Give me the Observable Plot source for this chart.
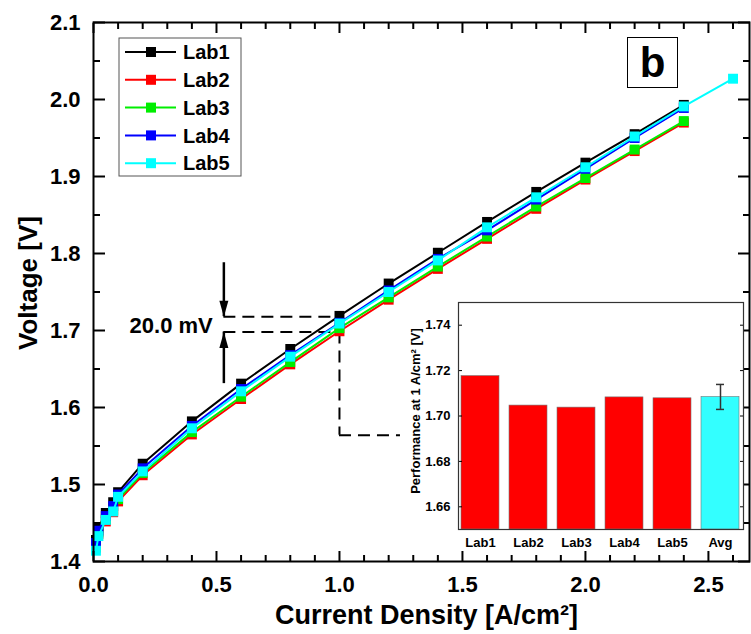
<!DOCTYPE html>
<html><head><meta charset="utf-8">
<script src="https://cdn.jsdelivr.net/npm/d3@7"></script>
<script src="https://cdn.jsdelivr.net/npm/@observablehq/plot@0.6"></script>
<style>
html,body{margin:0;padding:0;background:#fff;}
#wrap{position:relative;width:751px;height:634px;overflow:hidden;font-family:"Liberation Sans",Arial,sans-serif;}
#wrap > *{position:absolute;}
</style></head><body><div id="wrap"></div>
<script>
// ---------- data ----------
const labs = ["Lab1", "Lab2", "Lab3", "Lab4", "Lab5"];
const labColors = ["#000000", "#ff0000", "#00ee00", "#0000ff", "#00ffff"];
const current = [0.01, 0.02, 0.05, 0.08, 0.1, 0.2, 0.4, 0.6, 0.8, 1.0, 1.2, 1.4, 1.6, 1.8, 2.0, 2.2, 2.4];
const currentLab5 = [0.01, 0.02, 0.05, 0.08, 0.1, 0.2, 0.4, 0.6, 0.8, 1.0, 1.2, 1.4, 1.6, 1.8, 2.0, 2.2, 2.4, 2.6];
const lab1V = [1.428, 1.444, 1.463, 1.477, 1.490, 1.527, 1.582, 1.631, 1.676, 1.719, 1.761, 1.801, 1.841, 1.880, 1.918, 1.955, 1.993];
const lab2V = [1.418, 1.436, 1.452, 1.464, 1.478, 1.512, 1.565, 1.611, 1.656, 1.699, 1.740, 1.780, 1.819, 1.858, 1.896, 1.933, 1.970];
const lab3V = [1.420, 1.438, 1.455, 1.467, 1.481, 1.515, 1.568, 1.614, 1.659, 1.703, 1.743, 1.783, 1.822, 1.861, 1.898, 1.935, 1.972];
const lab4V = [1.424, 1.440, 1.459, 1.472, 1.487, 1.521, 1.576, 1.624, 1.668, 1.710, 1.752, 1.793, 1.830, 1.870, 1.910, 1.950, 1.989];
const lab5V = [1.414, 1.433, 1.454, 1.465, 1.484, 1.517, 1.573, 1.621, 1.666, 1.709, 1.750, 1.791, 1.834, 1.873, 1.912, 1.952, 1.991, 2.027];

const xMajor = [0, 0.5, 1.0, 1.5, 2.0, 2.5];
const xMinor = [0.1, 0.2, 0.3, 0.4, 0.6, 0.7, 0.8, 0.9, 1.1, 1.2, 1.3, 1.4, 1.6, 1.7, 1.8, 1.9, 2.1, 2.2, 2.3, 2.4, 2.6];
const yMajor = [1.4, 1.5, 1.6, 1.7, 1.8, 1.9, 2.0, 2.1];
const yMinor = [1.45, 1.55, 1.65, 1.75, 1.85, 1.95, 2.05];

// annotation (data space)
const annX = 0.53;
const annHigh = 1.718;
const annLow = 1.698;
const annText = "20.0 mV";
const cornerY = 1.564;
const cornerX = 1.248;
const arrowTopStart = 1.788;
const arrowBottomStart = 1.631;

// inset
const insetLabels = ["Lab1", "Lab2", "Lab3", "Lab4", "Lab5", "Avg"];
const insetValues = [1.7176, 1.7046, 1.7037, 1.7082, 1.7078, 1.7084];
const insetColors = ["#ff0000", "#ff0000", "#ff0000", "#ff0000", "#ff0000", "#33ffff"];
const avgError = 0.0055;
const insetTicks = [1.66, 1.68, 1.70, 1.72, 1.74];

// ---------- build ----------
const FONT = '"Liberation Sans", Arial, sans-serif';
const volts = [lab1V, lab2V, lab3V, lab4V, lab5V];
const xs = [current, current, current, current, currentLab5];
const series = labs.map((lab, i) => xs[i].map((x, j) => ({lab, x, y: volts[i][j], color: labColors[i]})));

const seriesMarks = series.flatMap((d, i) => [
  Plot.line(d, {x: "x", y: "y", stroke: labColors[i], strokeWidth: 2}),
  Plot.dot(d, {x: "x", y: "y", symbol: "square", r: 5.6, fill: labColors[i], stroke: "none"})
]);

// filled narrow arrowhead; tip at the anchor point
const arrowHead = {
  draw(context, l) {
    context.moveTo(0, -l);
    context.lineTo(-4.5, 0);
    context.lineTo(4.5, 0);
    context.closePath();
  }
};

const heads = [{y: annHigh, dir: 180}, {y: annLow, dir: 0}];

const dash = "12,7";
const main = Plot.plot({
  width: 751, height: 634,
  marginLeft: 93, marginRight: 2, marginTop: 22, marginBottom: 73,
  x: {domain: [0, 2.667]},
  y: {domain: [1.4, 2.1]},
  style: {fontFamily: FONT, fontSize: "22px", fontWeight: "bold", background: "white", color: "black"},
  marks: [
    // annotation
    Plot.ruleY([annHigh, annLow], {x1: annX, x2: 1.0, stroke: "black", strokeWidth: 2, strokeDasharray: dash}),
    Plot.ruleX([1.0], {y1: annLow, y2: cornerY, stroke: "black", strokeWidth: 2, strokeDasharray: dash}),
    Plot.ruleY([cornerY], {x1: 1.0, x2: cornerX, stroke: "black", strokeWidth: 2, strokeDasharray: dash}),
    Plot.ruleX([{a: arrowTopStart, b: annHigh}, {a: arrowBottomStart, b: annLow}],
      {x: annX, y1: "a", y2: "b", stroke: "black", strokeWidth: 2.5, insetTop: 0}),
    Plot.vector(heads, {x: annX, y: "y", rotate: "dir", length: 16, anchor: "end", shape: arrowHead, fill: "black", stroke: "none"}),
    Plot.text([annText], {x: annX - 0.045, y: (annHigh + annLow) / 2 - 0.002, text: d => d, textAnchor: "end", lineAnchor: "middle", fontSize: 22, fontWeight: "bold"}),
    ...seriesMarks,
    // axes
    Plot.axisX({anchor: "bottom", ticks: xMajor, tickSize: -10, tickPadding: 25, tickFormat: d => d.toFixed(1), label: null, strokeWidth: 2}),
    Plot.axisX({anchor: "bottom", ticks: xMinor, tickSize: -6, tickFormat: () => "", label: null, strokeWidth: 2}),
    Plot.axisX({anchor: "top", ticks: xMajor, tickSize: -10, tickFormat: () => "", label: null, strokeWidth: 2}),
    Plot.axisX({anchor: "top", ticks: xMinor, tickSize: -6, tickFormat: () => "", label: null, strokeWidth: 2}),
    Plot.axisY({anchor: "left", ticks: yMajor, tickSize: -12, tickPadding: 25, tickFormat: d => d.toFixed(1), label: null, strokeWidth: 2}),
    Plot.axisY({anchor: "left", ticks: yMinor, tickSize: -7, tickFormat: () => "", label: null, strokeWidth: 2}),
    Plot.axisY({anchor: "right", ticks: yMajor, tickSize: -12, tickFormat: () => "", label: null, strokeWidth: 2}),
    Plot.axisY({anchor: "right", ticks: yMinor, tickSize: -7, tickFormat: () => "", label: null, strokeWidth: 2}),
    Plot.frame({stroke: "black", strokeWidth: 2}),
    Plot.text(["Current Density [A/cm²]"], {frameAnchor: "bottom", text: d => d, textAnchor: "middle", lineAnchor: "middle", dy: 54, dx: 5, fontSize: 27, fontWeight: "bold"}),
    Plot.text(["Voltage [V]"], {frameAnchor: "left", text: d => d, textAnchor: "middle", lineAnchor: "middle", rotate: -90, dx: -65, dy: -9, fontSize: 26, fontWeight: "bold"})
  ]
});

const insetData = insetLabels.map((lab, i) => ({lab, v: insetValues[i], color: insetColors[i]}));
const avgRow = insetData.filter(d => d.lab === "Avg");
const inset = Plot.plot({
  width: 350, height: 265,
  marginLeft: 58, marginRight: 7, marginTop: 12, marginBottom: 26,
  x: {domain: insetLabels, paddingInner: 0.2, paddingOuter: 0.05},
  y: {domain: [1.65, 1.75]},
  style: {fontFamily: FONT, fontSize: "13px", fontWeight: "bold", background: "transparent", color: "black", overflow: "visible"},
  marks: [
    Plot.frame({fill: "white", stroke: "none"}),
    Plot.barY(insetData, {x: "lab", y1: 1.65, y2: "v", fill: "color", stroke: "#777", strokeWidth: 0.6}),
    Plot.ruleX(avgRow, {x: "lab", y1: d => d.v - avgError, y2: d => d.v + avgError, stroke: "#333", strokeWidth: 1.5}),
    Plot.tickY(avgRow, {x: "lab", y: d => d.v - avgError, stroke: "#333", strokeWidth: 1.5, inset: 15}),
    Plot.tickY(avgRow, {x: "lab", y: d => d.v + avgError, stroke: "#333", strokeWidth: 1.5, inset: 15}),
    Plot.axisY({anchor: "left", ticks: insetTicks, tickSize: -4, tickPadding: 12, tickFormat: d => d.toFixed(2), label: null}),
    Plot.axisY({anchor: "right", ticks: insetTicks, tickSize: -4, tickFormat: () => "", label: null}),
    Plot.axisX({anchor: "bottom", tickSize: 0, tickPadding: 8, label: null}),
    Plot.frame({stroke: "#333", strokeWidth: 1.2}),
    Plot.text(["Performance at 1 A/cm² [V]"], {frameAnchor: "left", text: d => d, textAnchor: "middle", lineAnchor: "middle", rotate: -90, dx: -43, dy: -5, fontSize: 13, fontWeight: "bold"})
  ]
});

const wrap = document.getElementById("wrap");
main.style.left = "0px"; main.style.top = "0px";
wrap.appendChild(main);
inset.style.left = "400px"; inset.style.top = "290px";
wrap.appendChild(inset);

// legend
const leg = d3.create("svg").attr("width", 124).attr("height", 140)
  .style("left", "118px").style("top", "37px");
leg.append("rect").attr("x", 1).attr("y", 1).attr("width", 122).attr("height", 138)
  .attr("fill", "white").attr("stroke", "#555").attr("stroke-width", 1);
labs.forEach((lab, i) => {
  const cy = 15 + i * 27.8;
  leg.append("line").attr("x1", 7).attr("x2", 58).attr("y1", cy).attr("y2", cy)
    .attr("stroke", labColors[i]).attr("stroke-width", 2);
  leg.append("rect").attr("x", 28).attr("y", cy - 5).attr("width", 10).attr("height", 10).attr("fill", labColors[i]);
  leg.append("text").attr("x", 65).attr("y", cy).attr("dy", "0.36em")
    .attr("font-family", FONT).attr("font-size", 20).attr("font-weight", "bold").text(lab);
});
wrap.appendChild(leg.node());

// panel letter
const b = d3.create("div").style("left", "627px").style("top", "37px")
  .style("width", "49px").style("height", "49px").style("border", "1.5px solid black")
  .style("background", "white")
  .style("font-family", FONT).style("font-weight", "bold").style("font-size", "42px")
  .style("display", "flex").style("align-items", "center").style("justify-content", "center")
  .style("line-height", "1").text("b");
wrap.appendChild(b.node());
</script></body></html>
